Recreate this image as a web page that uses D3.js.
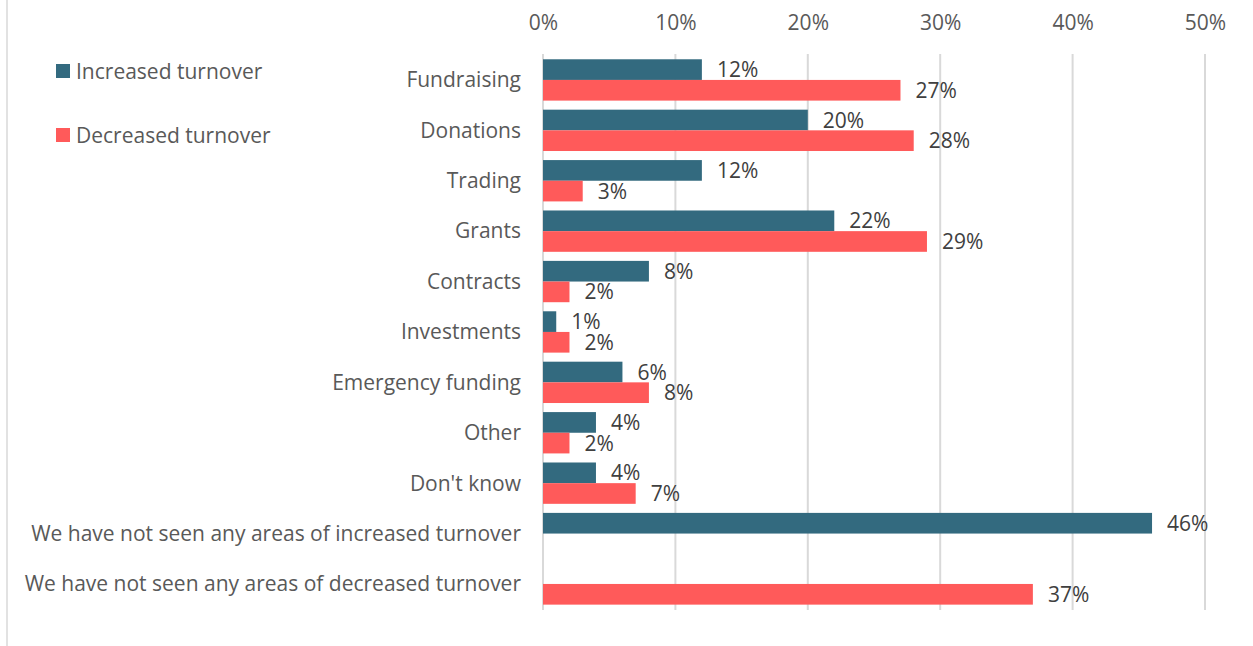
<!DOCTYPE html>
<html>
<head>
<meta charset="utf-8">
<script src="https://cdn.jsdelivr.net/npm/d3@7"></script>
<style>
  body { margin: 0; background: #fff; }
  svg text { font-family: "Open Sans", sans-serif; }
</style>
</head>
<body>
<svg width="1253" height="646"></svg>
<script>
// dati
const categories = [
  "Fundraising",
  "Donations",
  "Trading",
  "Grants",
  "Contracts",
  "Investments",
  "Emergency funding",
  "Other",
  "Don't know",
  "We have not seen any areas of increased turnover",
  "We have not seen any areas of decreased turnover"
];
const increased = [12, 20, 12, 22, 8, 1, 6, 4, 4, 46, null];
const decreased = [27, 28, 3, 29, 2, 2, 8, 2, 7, null, 37];
const seriesNames = ["Increased turnover", "Decreased turnover"];
const tickValues = [0, 10, 20, 30, 40, 50];

const colors = ["#336a7f", "#ff5a5a"];

const svg = d3.select("svg");
const width = +svg.attr("width");
const height = +svg.attr("height");

// bordo sinistro
svg.append("line")
  .attr("x1", 7).attr("x2", 7)
  .attr("y1", 0).attr("y2", height)
  .attr("stroke", "#d9d9d9")
  .attr("stroke-width", 1.5);

const xScale = d3.scaleLinear().domain([0, 50]).range([543, 1205]);
const yScale = d3.scaleBand().domain(categories).range([50.2, 613.7]).padding(0.18);
const subScale = d3.scaleBand().domain([0, 1]).range([0, yScale.bandwidth()]);

// griglia verticale
svg.append("g")
  .selectAll("line")
  .data(tickValues)
  .join("line")
  .attr("x1", d => xScale(d))
  .attr("x2", d => xScale(d))
  .attr("y1", 54)
  .attr("y2", 610)
  .attr("stroke", "#d9d9d9")
  .attr("stroke-width", 2);

// asse in alto
const axis = d3.axisTop(xScale)
  .tickValues(tickValues)
  .tickFormat(d => d + "%")
  .tickSize(0)
  .tickPadding(0);

const axisGroup = svg.append("g")
  .attr("transform", "translate(0, 30)")
  .call(axis);
axisGroup.select(".domain").remove();
axisGroup.selectAll("text")
  .attr("font-size", "21px")
  .attr("fill", "#595959")
  .attr("dy", 0)
  .style("font-family", "'Open Sans', sans-serif");

// etichette categorie
svg.append("g")
  .selectAll("text")
  .data(categories)
  .join("text")
  .attr("x", 521)
  .attr("y", d => yScale(d) + yScale.bandwidth() / 2)
  .attr("dy", "0.35em")
  .attr("text-anchor", "end")
  .attr("font-size", "21px")
  .attr("fill", "#595959")
  .text(d => d);

// dati per le barre
const barData = [];
categories.forEach((c, i) => {
  [increased[i], decreased[i]].forEach((v, s) => {
    if (v !== null) barData.push({ cat: c, s: s, v: v });
  });
});

const bars = svg.append("g")
  .selectAll("g")
  .data(barData)
  .join("g")
  .attr("transform", d => `translate(0, ${yScale(d.cat) + subScale(d.s)})`);

bars.append("rect")
  .attr("x", xScale(0))
  .attr("y", 0)
  .attr("width", d => xScale(d.v) - xScale(0))
  .attr("height", subScale.bandwidth())
  .attr("fill", d => colors[d.s]);

// etichette valori
bars.append("text")
  .attr("x", d => xScale(d.v) + 15)
  .attr("y", subScale.bandwidth() / 2)
  .attr("dy", "0.36em")
  .attr("font-size", "21px")
  .attr("fill", "#404040")
  .text(d => d.v + "%");

// legenda
const legend = svg.append("g")
  .selectAll("g")
  .data(seriesNames)
  .join("g")
  .attr("transform", (d, i) => `translate(56, ${64 + i * 64})`);

legend.append("rect")
  .attr("width", 14)
  .attr("height", 14)
  .attr("fill", (d, i) => colors[i]);

legend.append("text")
  .attr("x", 20)
  .attr("y", 7)
  .attr("dy", "0.36em")
  .attr("font-size", "21px")
  .attr("fill", "#595959")
  .text(d => d);
</script>
</body>
</html>
